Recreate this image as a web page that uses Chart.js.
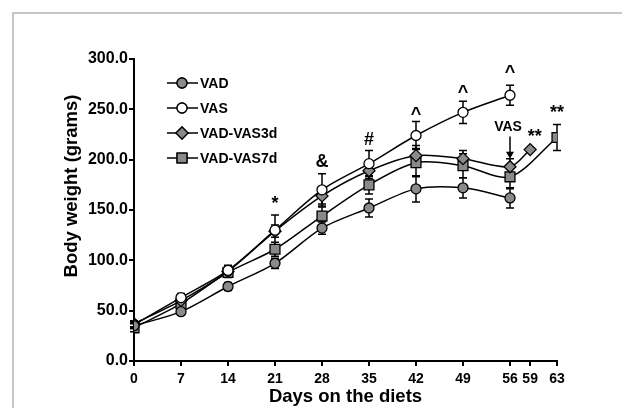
<!DOCTYPE html>
<html lang="en">
<head>
<meta charset="UTF-8">
<title>Body weight on the diets</title>
<script src="https://cdn.jsdelivr.net/npm/chart.js"></script>
<style>
  html, body { margin: 0; padding: 0; background: #fff; }
  #wrap { width: 622px; height: 408px; position: relative; }
</style>
</head>
<body>
<div id="wrap"><canvas id="bwChart" width="622" height="408"></canvas></div>
<script>
  // --- data ---
  const days = [0, 7, 14, 21, 28, 35, 42, 49, 56];
  const days3d = [0, 7, 14, 21, 28, 35, 42, 49, 56, 59];
  const days7d = [0, 7, 14, 21, 28, 35, 42, 49, 56, 63];
  const xTickValues = [0, 7, 14, 21, 28, 35, 42, 49, 56, 59, 63];

  const vad = [35, 49, 74, 97, 132, 152, 171, 172, 162];
  const vadErr = [3, 3, 4, 5, 6, 9, 13, 10, 10];
  const vas = [36, 63, 90, 130, 170, 196, 224, 247, 264];
  const vasErr = [3, 4, 5, 15, 16, 13, 14, 11, 10];
  const vas3d = [37, 60, 89, 129, 164, 189, 204, 201, 193, 210];
  const vas3dErr = [3, 4, 5, 6, 8, 8, 10, 8, 8, 0];
  const vas7d = [33, 57, 88, 111, 144, 175, 197, 194, 183, 222];
  const vas7dErr = [4, 4, 5, 7, 9, 9, 14, 12, 12, 13];

  // significance marks: [text, day, weight]
  const marks = [
    ['*', 21, 156], ['&', 28, 198], ['#', 35, 220],
    ['^', 42, 244], ['^', 49, 266], ['^', 56, 286],
    ['**', 59.7, 222], ['**', 63, 246]
  ];
  const arrowLabel = 'VAS';
  const arrowDay = 56;
  const arrowFrom = 223;
  const arrowTo = 201;

  const yTitle = 'Body weight (grams)';

  const GRAY = '#8a8a8a';
  const FONT = '"Liberation Sans", Arial, sans-serif';

  function pts(xs, ys) { return xs.map((d, i) => ({ x: d, y: ys[i] })); }

  function series(label, xs, ys, errs, style, fill, radius) {
    return {
      label: label,
      data: pts(xs, ys),
      errors: errs,
      pointStyle: style,
      pointRadius: radius,
      pointBackgroundColor: fill,
      pointBorderColor: '#000',
      pointBorderWidth: 1.3,
      borderColor: '#000',
      borderWidth: 1.5,
      tension: 0.3,
      fill: false
    };
  }

  // error bars, drawn under the markers
  const errorBars = {
    id: 'errorBars',
    beforeDatasetsDraw(chart) {
      const c = chart.ctx, ys = chart.scales.y;
      c.save();
      c.strokeStyle = '#000';
      c.lineWidth = 1.5;
      chart.data.datasets.forEach((ds, di) => {
        const meta = chart.getDatasetMeta(di);
        meta.data.forEach((p, i) => {
          const e = ds.errors[i];
          if (!e) return;
          const v = ds.data[i].y;
          const top = ys.getPixelForValue(v + e);
          const bot = ys.getPixelForValue(v - e);
          c.beginPath();
          c.moveTo(p.x, top); c.lineTo(p.x, bot);
          c.moveTo(p.x - 4, top); c.lineTo(p.x + 4, top);
          c.moveTo(p.x - 4, bot); c.lineTo(p.x + 4, bot);
          c.stroke();
        });
      });
      c.restore();
    }
  };

  // frame, y title, legend, significance marks and the VAS arrow
  const extras = {
    id: 'extras',
    beforeDraw(chart) {
      const c = chart.ctx;
      c.save();
      c.strokeStyle = '#b4b4b4';
      c.lineWidth = 1.5;
      c.beginPath();
      c.moveTo(13, 408); c.lineTo(13, 13); c.lineTo(622, 13);
      c.stroke();
      c.restore();
    },
    afterDraw(chart) {
      const c = chart.ctx, xs = chart.scales.x, ys = chart.scales.y;
      c.save();
      // y axis title
      c.fillStyle = '#000';
      c.font = 'bold 18.5px ' + FONT;
      c.textAlign = 'center';
      c.textBaseline = 'middle';
      c.translate(72, 186);
      c.rotate(-Math.PI / 2);
      c.fillText(yTitle, 0, 0);
      c.setTransform(1, 0, 0, 1, 0, 0);
      // legend
      c.textAlign = 'left';
      c.font = 'bold 14px ' + FONT;
      chart.data.datasets.forEach((ds, i) => {
        const y = 83 + i * 25;
        c.strokeStyle = '#000';
        c.lineWidth = 1.5;
        c.beginPath(); c.moveTo(167, y); c.lineTo(198, y); c.stroke();
        c.fillStyle = ds.pointBackgroundColor;
        c.lineWidth = 1.3;
        Chart.helpers.drawPoint(c, { pointStyle: ds.pointStyle, radius: ds.pointRadius, borderWidth: 1.3 }, 182, y);
        c.fill(); c.stroke();
        c.fillStyle = '#000';
        c.fillText(ds.label, 200, y + 1);
      });
      // marks
      c.textAlign = 'center';
      c.font = 'bold 18px ' + FONT;
      marks.forEach(m => {
        c.fillText(m[0], xs.getPixelForValue(m[1]), ys.getPixelForValue(m[2]));
      });
      // arrow
      const ax = xs.getPixelForValue(arrowDay);
      const a1 = ys.getPixelForValue(arrowFrom), a2 = ys.getPixelForValue(arrowTo);
      c.font = 'bold 14px ' + FONT;
      c.fillText(arrowLabel, ax - 2, a1 - 9);
      c.strokeStyle = '#000';
      c.lineWidth = 1.5;
      c.beginPath(); c.moveTo(ax, a1); c.lineTo(ax, a2 - 6); c.stroke();
      c.beginPath();
      c.moveTo(ax - 4, a2 - 7); c.lineTo(ax + 4, a2 - 7); c.lineTo(ax, a2); c.closePath();
      c.fill();
      c.restore();
    }
  };

  const ctx = document.getElementById('bwChart').getContext('2d');
  const bwChart = new Chart(ctx, {
    type: 'line',
    data: {
      datasets: [
        series('VAD', days, vad, vadErr, 'circle', GRAY, 5),
        series('VAS', days, vas, vasErr, 'circle', '#fff', 5),
        series('VAD-VAS3d', days3d, vas3d, vas3dErr, 'rectRot', GRAY, 6),
        series('VAD-VAS7d', days7d, vas7d, vas7dErr, 'rect', GRAY, 7)
      ]
    },
    options: {
      responsive: false,
      animation: false,
      layout: { padding: { left: 66, top: 59, right: 65, bottom: 0 } },
      plugins: { legend: { display: false }, tooltip: { enabled: false } },
      scales: {
        x: {
          type: 'linear', min: 0, max: 63,
          afterBuildTicks: s => { s.ticks = xTickValues.map(v => ({ value: v })); },
          afterFit: s => { s.height = 47; },
          grid: { drawOnChartArea: false, color: '#000', lineWidth: 2, tickLength: 5 },
          border: { color: '#000', width: 2 },
          ticks: { color: '#000', font: { family: FONT, size: 14, weight: 'bold' }, padding: 5, maxRotation: 0, autoSkip: false, callback: v => v },
          title: { display: true, text: 'Days on the diets', color: '#000', font: { family: FONT, size: 18.5, weight: 'bold' }, padding: 0 }
        },
        y: {
          min: 0, max: 300,
          afterFit: s => { s.width = 68; },
          grid: { drawOnChartArea: false, color: '#000', lineWidth: 2, tickLength: 5 },
          border: { color: '#000', width: 2 },
          ticks: { stepSize: 50, color: '#000', font: { family: FONT, size: 16, weight: 'bold' }, padding: 1, callback: v => v.toFixed(1) },
          title: { display: false }
        }
      }
    },
    plugins: [errorBars, extras]
  });
</script>
</body>
</html>
